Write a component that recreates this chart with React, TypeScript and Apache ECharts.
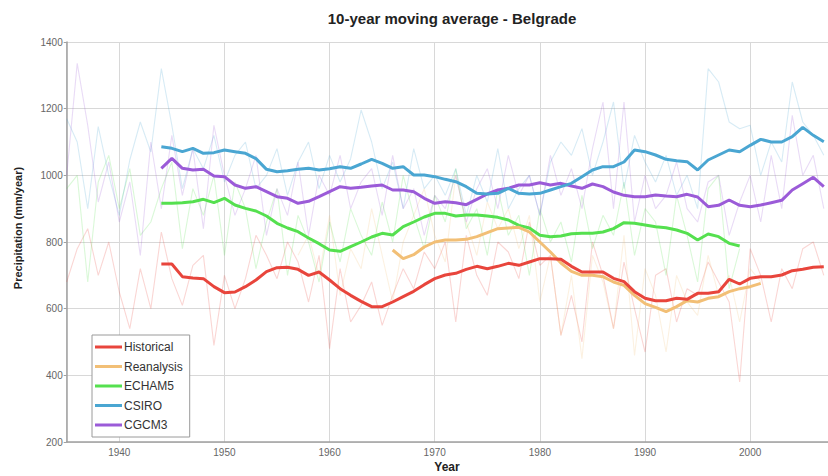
import React, { useEffect, useRef } from "react";
import * as echarts from "echarts";

const FONT = '"Liberation Sans", Arial, Helvetica, sans-serif';

const seriesNames = ["Historical", "Reanalysis", "ECHAM5", "CSIRO", "CGCM3"];
const seriesColors = ["#e8453c", "#f2bf76", "#55e04f", "#4aa6d2", "#9b5bd8"];

const yTicks = [200, 400, 600, 800, 1000, 1200, 1400];

// 10-year moving averages (start year + values)
const histMAStart = 1944;
const histMA = [
  734, 734, 696, 692, 690, 666, 648, 650, 666, 686,
  711, 723, 724, 718, 700, 710, 686, 660, 640, 622,
  606, 606, 620, 636, 652, 672, 690, 701, 706, 718,
  727, 720, 727, 736, 730, 740, 750, 750, 748, 727,
  710, 710, 710, 691, 681, 651, 631, 624, 624, 631,
  628, 646, 646, 651, 688, 674, 691, 696, 696, 701,
  714, 718, 724, 726,
];
const reanMAStart = 1966;
const reanMA = [
  776, 750, 762, 785, 800, 806, 806, 808, 816, 828,
  840, 842, 844, 830, 800, 770, 737, 712, 700, 700,
  696, 680, 670, 640, 615, 604, 591, 606, 624, 620,
  631, 636, 651, 660, 666, 676,
];
const echamMAStart = 1944;
const echamMA = [
  916, 916, 918, 921, 928, 918, 931, 911, 901, 893,
  878, 856, 842, 831, 812, 795, 776, 772, 786, 800,
  815, 826, 821, 846, 860, 875, 886, 886, 878, 881,
  881, 878, 874, 866, 850, 842, 820, 816, 818, 825,
  826, 826, 830, 840, 858, 856, 851, 846, 843, 836,
  826, 806, 824, 816, 796, 788,
];
const csiroMAStart = 1944;
const csiroMA = [
  1086, 1081, 1071, 1081, 1066, 1068, 1076, 1071, 1066, 1050,
  1018, 1011, 1014, 1018, 1021, 1016, 1020, 1026, 1021, 1034,
  1048, 1036, 1021, 1026, 1001, 1001, 996, 988, 981, 966,
  946, 944, 946, 961, 946, 944, 946, 956, 966, 976,
  996, 1016, 1026, 1026, 1040, 1076, 1071, 1061, 1048, 1044,
  1041, 1016, 1046, 1061, 1076, 1071, 1090, 1108, 1100, 1100,
  1116, 1144, 1120, 1101,
];
const cgcmMAStart = 1944;
const cgcmMA = [
  1021, 1051, 1021, 1016, 1018, 998, 996, 971, 961, 966,
  951, 936, 931, 916, 922, 936, 951, 966, 961, 964,
  968, 971, 956, 956, 951, 931, 916, 921, 918, 912,
  928, 944, 956, 961, 971, 971, 978, 971, 976, 968,
  961, 974, 966, 950, 940, 936, 936, 941, 938, 936,
  943, 935, 906, 910, 926, 910, 906, 911, 918, 925,
  956, 975, 994, 966,
];

// Annual values (faint lines)
const histYearStart = 1935;
const histYear = [
  680, 780, 840, 700, 800, 650, 540, 720, 600, 830,
  690, 610, 730, 760, 490, 700, 600, 690, 820, 760,
  690, 800, 740, 620, 760, 480, 720, 560, 610, 680,
  550, 640, 720, 660, 770, 720, 800, 560, 820, 700,
  640, 800, 770, 690, 860, 730, 760, 520, 640, 500,
  800, 700, 540, 740, 600, 470, 700, 720, 560, 660,
  640, 740, 680, 620, 380, 780, 700, 560, 720, 660,
  780, 800, 700,
];
const reanYearStart = 1957;
const reanYear = [
  760, 820, 700, 880, 640, 780, 720, 900, 760, 620,
  800, 880, 960, 820, 740, 1000, 860, 760, 920, 840,
  900, 780, 880, 620, 760, 520, 700, 450, 760, 680,
  540, 820, 460, 720, 640, 470, 700, 620, 580, 760,
  640, 700, 560, 720, 680,
];
const echamYearStart = 1935;
const echamYear = [
  960, 1000, 680, 980, 1060, 900, 1020, 820, 860, 960,
  1040, 780, 960, 880, 1000, 760, 980, 900, 720, 860,
  960, 700, 880, 800, 680, 860, 740, 900, 820, 760,
  920, 800, 1000, 880, 780, 940, 860, 1020, 840, 900,
  760, 960, 820, 880, 700, 900, 800, 860, 740, 940,
  780, 880, 820, 980, 760, 900, 860, 700, 940, 820,
  680, 960, 1000, 660, 780,
];
const csiroYearStart = 1935;
const csiroYear = [
  1170, 1100, 900, 1146, 1000, 880, 1046, 1160, 1070, 1320,
  1150, 960, 1080, 1020, 1120, 980, 1060, 1100, 960, 1000,
  1080, 940, 1040, 1100, 960, 1060, 980, 1050, 1196, 1100,
  960, 1040, 900, 1080, 960, 1000, 940, 1020, 880, 1000,
  920, 1080, 900, 960, 1000, 880, 1040, 1100, 1060, 1140,
  1000, 1100, 1220, 960, 1120, 1040, 980, 1060, 940, 1000,
  900, 1320, 1280, 1160, 1140, 1150, 1000, 1100, 1040, 1280,
  1160, 1120, 1060,
];
const cgcmYearStart = 1935;
const cgcmYear = [
  1000, 1336, 1150, 920, 1040, 860, 980, 760, 1100, 900,
  1120, 940, 1080, 840, 1150, 1000, 880, 960, 1060, 820,
  960, 880, 1040, 820, 1000, 940, 1060, 900, 980, 1020,
  880, 1060, 900, 960, 820, 940, 900, 1000, 860, 960,
  1020, 900, 1060, 940, 1000, 880, 1060, 940, 1020, 900,
  1080, 1220, 900, 1220, 860, 1000, 900, 940, 1040, 900,
  860, 980, 1000, 820, 920, 1000, 860, 1060, 900, 1180,
  1000, 1060, 900,
];

const toPairs = (start: number, vals: number[]) => vals.map((v, i) => [start + i, v]);

const maSets = [
  [histMAStart, histMA],
  [reanMAStart, reanMA],
  [echamMAStart, echamMA],
  [csiroMAStart, csiroMA],
  [cgcmMAStart, cgcmMA],
] as [number, number[]][];
const yearSets = [
  [histYearStart, histYear],
  [reanYearStart, reanYear],
  [echamYearStart, echamYear],
  [csiroYearStart, csiroYear],
  [cgcmYearStart, cgcmYear],
] as [number, number[]][];

export default function App() {
  const ref = useRef<HTMLDivElement>(null);
  useEffect(() => {
    if (!ref.current) return;
    const chart = echarts.init(ref.current, undefined, { renderer: "svg" });

    const faint = yearSets.map(([s, v], i) => ({
      name: seriesNames[i] + " annual",
      type: "line",
      data: toPairs(s, v),
      showSymbol: false,
      symbol: "none",
      lineStyle: { color: seriesColors[i], width: 1.1, opacity: 0.22 },
      z: 1,
      silent: true,
    }));
    const order = [4, 3, 2, 1, 0];
    const thick = order.map((i) => ({
      name: seriesNames[i],
      type: "line",
      data: toPairs(maSets[i][0], maSets[i][1]),
      showSymbol: false,
      symbol: "none",
      itemStyle: { color: seriesColors[i] },
      lineStyle: { color: seriesColors[i], width: 3 },
      z: 3,
    }));

    chart.setOption({
      animation: false,
      backgroundColor: "#ffffff",
      textStyle: { fontFamily: FONT },
      grid: { left: 66.7, right: -3, top: 42, bottom: 34, containLabel: false },
      xAxis: {
        type: "value",
        min: 1935,
        max: 2007.4,
        minInterval: 10,
        maxInterval: 10,
        axisLine: { show: true, lineStyle: { color: "#a0a0a0", width: 1.5 } },
        axisTick: { show: false },
        axisLabel: {
          color: "#666",
          fontSize: 10,
          fontFamily: FONT,
          margin: 5,
          showMinLabel: false,
          showMaxLabel: false,
          formatter: (v: number) => String(v),
        },
        splitLine: { show: true, lineStyle: { color: "#d8d8d8", width: 1 } },
      },
      yAxis: {
        type: "value",
        min: yTicks[0],
        max: yTicks[yTicks.length - 1],
        interval: 200,
        axisLine: { show: true, lineStyle: { color: "#a0a0a0", width: 1.5 } },
        axisTick: { show: true, length: 3, lineStyle: { color: "#a0a0a0" } },
        axisLabel: {
          color: "#666",
          fontSize: 10,
          fontFamily: FONT,
          margin: 4,
          formatter: (v: number) => String(v),
        },
        splitLine: { show: true, lineStyle: { color: "#d8d8d8", width: 1 } },
      },
      legend: {
        data: seriesNames,
        orient: "vertical",
        left: 92,
        top: 335,
        padding: [5, 7, 5, 3],
        itemGap: 5.5,
        itemWidth: 27,
        itemHeight: 3,
        icon: "rect",
        borderColor: "#9a9a9a",
        borderWidth: 1,
        backgroundColor: "#ffffff",
        textStyle: { color: "#333", fontSize: 12, fontFamily: FONT, lineHeight: 14, padding: [0, 0, 0, -3] },
      },
      graphic: [
        {
          type: "text",
          x: 452,
          y: 18,
          style: {
            text: "10-year moving average - Belgrade",
            font: `bold 15px ${FONT}`,
            fill: "#222",
            textAlign: "center",
            textVerticalAlign: "middle",
          },
        },
        {
          type: "text",
          x: 447,
          y: 467,
          style: {
            text: "Year",
            font: `bold 12px ${FONT}`,
            fill: "#222",
            textAlign: "center",
            textVerticalAlign: "middle",
          },
        },
        {
          type: "text",
          x: 18,
          y: 228,
          rotation: Math.PI / 2,
          style: {
            text: "Precipitation (mm/year)",
            font: `bold 11px ${FONT}`,
            fill: "#222",
            textAlign: "center",
            textVerticalAlign: "middle",
          },
        },
      ],
      series: [...faint, ...thick],
    });
    return () => chart.dispose();
  }, []);
  return (
    <div
      ref={ref}
      style={{ position: "fixed", left: 0, top: 0, width: 828, height: 476, background: "#fff" }}
    />
  );
}
